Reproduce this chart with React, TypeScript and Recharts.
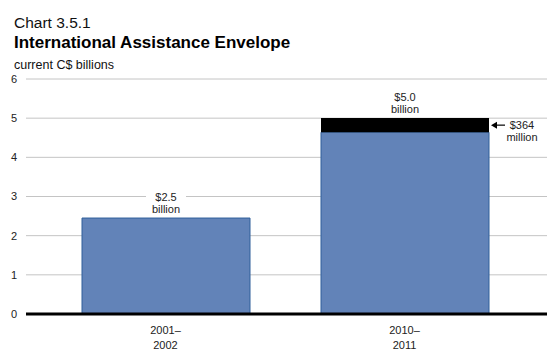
import { BarChart, Bar, XAxis, YAxis, CartesianGrid, ReferenceLine, LabelList } from 'recharts';

const categories = ['2001–2002', '2010–2011'];
const baseValues = [2.45, 4.64];
const topUpValues = [0, 0.364];
const totalLabels = ['$2.5', '$5.0'];
const topUpLabels = ['', '$364'];
const yTicks = [0, 1, 2, 3, 4, 5, 6];

const data = categories.map((c, i) => ({
  cat: c,
  base: baseValues[i],
  topUp: topUpValues[i],
}));

const FONT = '"Liberation Sans", Arial, Helvetica, sans-serif';

function CatTick(props: any) {
  const { x, y, payload } = props;
  const [a, b] = String(payload.value).split('–');
  return (
    <g>
      <text x={x} y={y + 12} textAnchor="middle" fontSize={11} fill="#222" fontFamily={FONT}>
        {a}–
      </text>
      <text x={x} y={y + 27} textAnchor="middle" fontSize={11} fill="#222" fontFamily={FONT}>
        {b}
      </text>
    </g>
  );
}

// drawn from the base segment: total top = base top minus the stacked top-up height
function TotalLabel(props: any) {
  const { x, y, width, height, value } = props;
  const i = baseValues.indexOf(value);
  if (i < 0) return null;
  const pxPerUnit = height / value;
  const top = y - topUpValues[i] * pxPerUnit;
  const cx = x + width / 2;
  return (
    <g>
      <rect x={cx - 20} y={top - 27} width={40} height={25} fill="#fff" />
      <text x={cx} y={top - 17} textAnchor="middle" fontSize={11} fill="#222" fontFamily={FONT}>
        {totalLabels[i]}
      </text>
      <text x={cx} y={top - 5} textAnchor="middle" fontSize={11} fill="#222" fontFamily={FONT}>
        billion
      </text>
    </g>
  );
}

function TopUpLabel(props: any) {
  const { x, y, width, height, value } = props;
  const i = topUpValues.indexOf(value);
  if (i < 0 || !topUpLabels[i]) return null;
  const mid = y + height / 2;
  const ax = x + width + 2;
  return (
    <g>
      <line x1={ax + 3} y1={mid} x2={ax + 14} y2={mid} stroke="#000" strokeWidth={1.2} />
      <path d={`M${ax} ${mid} L${ax + 6} ${mid - 3.5} L${ax + 6} ${mid + 3.5} Z`} fill="#000" />
      <text x={ax + 31} y={mid + 4} textAnchor="middle" fontSize={11} fill="#222" fontFamily={FONT}>
        {topUpLabels[i]}
      </text>
      <text x={ax + 31} y={mid + 16} textAnchor="middle" fontSize={11} fill="#222" fontFamily={FONT}>
        million
      </text>
    </g>
  );
}

export default function App() {
  return (
    <div style={{ position: 'absolute', left: 0, top: 0, width: 560, height: 358, background: '#fff', fontFamily: FONT }}>
      <div style={{ position: 'absolute', left: 14, top: 14, fontSize: 15.5, color: '#111', lineHeight: '18px' }}>
        Chart 3.5.1
      </div>
      <div style={{ position: 'absolute', left: 14, top: 33, fontSize: 17, fontWeight: 'bold', color: '#000', lineHeight: '20px' }}>
        International Assistance Envelope
      </div>
      <div style={{ position: 'absolute', left: 14, top: 58, fontSize: 12.5, color: '#111', lineHeight: '14px' }}>
        current C$ billions
      </div>
      <div style={{ position: 'absolute', left: 0, top: 0 }}>
        <BarChart
          width={560}
          height={358}
          data={data}
          margin={{ top: 79, right: 13, bottom: 14, left: 0 }}
          barSize={168}
        >
          <CartesianGrid vertical={false} stroke="#c4c4c4" strokeWidth={1} />
          <XAxis
            dataKey="cat"
            height={30}
            axisLine={false}
            tickLine={false}
            tick={<CatTick />}
            padding={{ left: 20, right: 23 }}
            interval={0}
          />
          <YAxis
            width={26}
            domain={[0, 6]}
            ticks={yTicks}
            axisLine={false}
            tickLine={false}
            tickSize={0}
            tickMargin={9}
            tick={{ fontSize: 11, fill: '#222', fontFamily: FONT }}
          />
          <Bar dataKey="base" stackId="a" fill="#6283b8" stroke="#2f5f9a" strokeWidth={1} isAnimationActive={false}>
            <LabelList dataKey="base" content={<TotalLabel />} />
          </Bar>
          <Bar dataKey="topUp" stackId="a" fill="#000" isAnimationActive={false}>
            <LabelList dataKey="topUp" content={<TopUpLabel />} />
          </Bar>
          <ReferenceLine y={0} stroke="#000" strokeWidth={3} />
        </BarChart>
      </div>
    </div>
  );
}
